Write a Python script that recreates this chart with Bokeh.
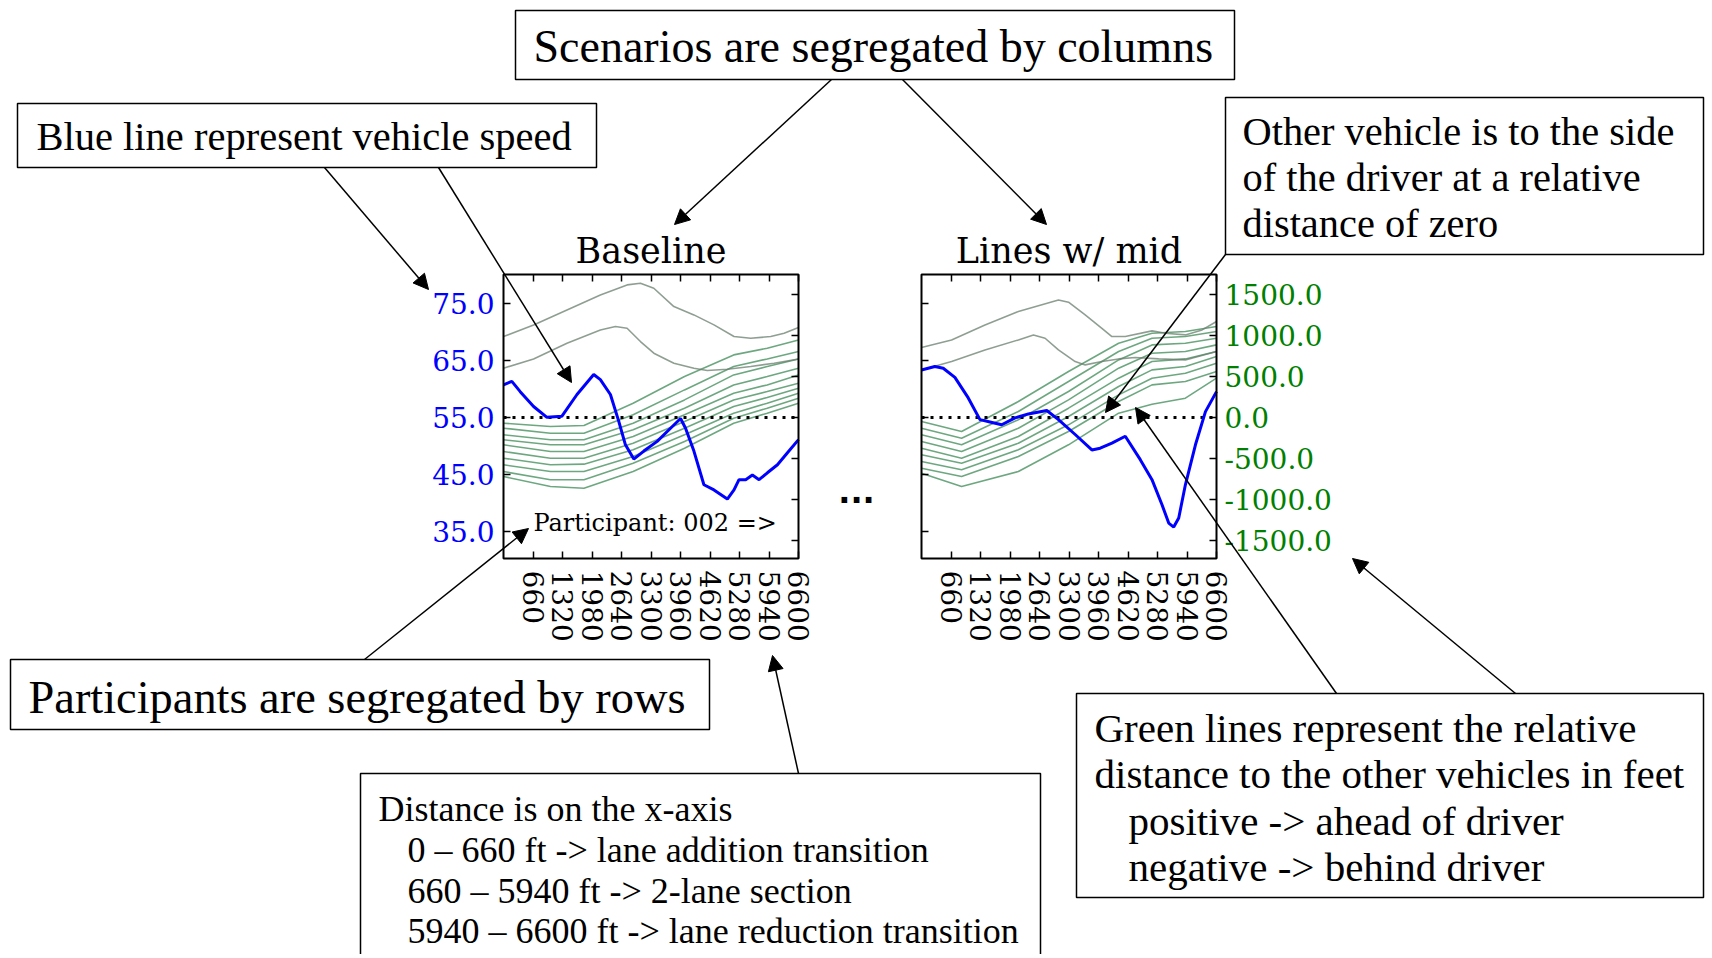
from bokeh.plotting import figure
from bokeh.models import Range1d, LinearAxis, FixedTicker, PrintfTickFormatter, Arrow, NormalHead
from bokeh.core.properties import value
from bokeh.embed import file_html
from bokeh.resources import INLINE

# ---------------- data ----------------
x_ticks = [660, 1320, 1980, 2640, 3300, 3960, 4620, 5280, 5940, 6600]
speed_ticks = [35, 45, 55, 65, 75]
dist_ticks = [-1500, -1000, -500, 0, 500, 1000, 1500]
x_lim = (0, 6600)
speed_lim = (30.3, 80.0)
dist_lim = (-1720, 1745)
scenarios = ["Baseline", "Lines w/ mid"]
participant = "Participant: 002 =>"

# Baseline scenario: speed (mph) and relative distances (ft)
base_x = [0, 187, 374, 673, 972, 1308, 1644, 2018, 2167, 2392, 2579, 2728, 2915, 3139, 3438, 3737,
          3961, 4073, 4260, 4484, 4709, 5008, 5157, 5269, 5419, 5568, 5718, 5904, 6129, 6353, 6600]
base_speed = [60.7, 61.3, 59.5, 56.9, 55.0, 55.2, 59.0, 62.5, 61.6, 59.0, 54.3, 50.2, 47.7, 49.1, 50.8, 53.1,
              54.8, 53.1, 49.1, 43.2, 42.3, 40.7, 42.3, 44.1, 44.1, 44.9, 44.1, 45.3, 46.7, 48.8, 51.1]
base_top_x = [0, 673, 1420, 2167, 2765, 3064, 3363, 3812, 4260, 4709, 5157, 5531, 5979, 6278, 6600]
base_top = [988, 1130, 1313, 1496, 1618, 1638, 1577, 1354, 1252, 1130, 988, 967, 988, 1028, 1098]
base_second_x = [0, 673, 1420, 2167, 2504, 2765, 3064, 3363, 3812, 4260, 4559, 5008, 5531, 6054, 6600]
base_second = [602, 715, 906, 1069, 1110, 1089, 927, 785, 663, 602, 573, 589, 622, 663, 715]
base_bundle_x = [0, 1050, 1800, 2900, 4050, 5150, 5900, 6600]
base_bundle = [
    [-69, -110, -98, 175, 500, 764, 846, 947],
    [-130, -191, -191, 33, 337, 622, 715, 805],
    [-211, -272, -272, -69, 215, 520, 622, 715],
    [-272, -333, -333, -150, 114, 398, 500, 602],
    [-333, -415, -415, -232, 33, 297, 398, 520],
    [-415, -496, -496, -313, -49, 215, 317, 419],
    [-496, -577, -569, -394, -130, 134, 244, 358],
    [-577, -659, -659, -476, -211, 53, 175, 297],
    [-659, -760, -760, -557, -293, -8, 114, 236],
    [-720, -841, -862, -659, -374, -69, 53, 175],
]

# Lines w/ mid scenario
mid_x = [0, 299, 486, 747, 1046, 1308, 1532, 1794, 2093, 2392, 2803, 3064, 3438, 3812, 3998, 4260,
         4559, 4895, 5157, 5381, 5531, 5643, 5755, 5904, 6129, 6353, 6600]
mid_speed = [63.3, 63.9, 63.6, 62.0, 58.4, 54.6, 54.2, 53.7, 54.9, 55.6, 56.2, 54.6, 52.0, 49.3, 49.6, 50.5,
             51.7, 47.6, 44.1, 39.7, 36.5, 35.8, 37.4, 43.2, 50.2, 56.0, 59.5]
mid_top_x = [0, 673, 1420, 2167, 3064, 3289, 3662, 4036, 4260, 4559, 5157, 5456, 5904, 6278, 6600]
mid_top = [854, 947, 1130, 1293, 1435, 1407, 1252, 1089, 988, 988, 1057, 1028, 1008, 1069, 1171]
mid_second_x = [0, 673, 1420, 2167, 2504, 2765, 3064, 3438, 3662, 4036, 4410, 4783, 5307, 5904, 6600]
mid_second = [581, 683, 825, 947, 1008, 967, 825, 683, 642, 683, 715, 732, 715, 703, 805]
mid_bundle_x = [0, 897, 2167, 3289, 4410, 5157, 5904, 6600]
mid_bundle = [
    [-49, -171, 195, 561, 906, 1028, 1049, 1110],
    [-130, -252, 73, 439, 805, 967, 988, 1049],
    [-211, -333, -28, 317, 703, 886, 906, 967],
    [-293, -415, -130, 215, 602, 785, 805, 886],
    [-374, -496, -232, 114, 480, 683, 715, 805],
    [-455, -557, -313, 12, 378, 581, 622, 744],
    [-537, -638, -394, -89, 276, 480, 541, 663],
    [-618, -720, -476, -171, 195, 398, 439, 561],
    [-679, -841, -659, -333, 53, 163, 236, 480],
]

# annotation texts
box_texts = [
    ["Scenarios are segregated by columns"],
    ["Blue line represent vehicle speed"],
    ["Other vehicle is to the side", "of the driver at a relative", "distance of zero"],
    ["Participants are segregated by rows"],
    ["Distance is on the x-axis", "0 \u2013 660 ft -> lane addition transition",
     "660 \u2013 5940 ft -> 2-lane section", "5940 \u2013 6600 ft -> lane reduction transition"],
    ["Green lines represent the relative", "distance to the other vehicles in feet",
     "positive -> ahead of driver", "negative -> behind driver"],
]

# ---------------- layout (page pixels) ----------------
OX, OY = 0, 0
W, H = 1708, 954
panel_boxes = [(503, 798, 274, 558), (921, 1216, 274, 558)]
boxes = [(515, 1234, 10, 79), (17, 596, 103, 167), (1225, 1703, 97, 254),
         (10, 709, 659, 729), (360, 1040, 773, 975), (1076, 1703, 693, 897)]
text_pos = [
    [(533, 46)],
    [(36, 136)],
    [(1242, 131), (1242, 177), (1242, 223)],
    [(28, 697)],
    [(378, 808), (407, 849), (407, 890), (407, 930)],
    [(1094, 727), (1094, 773), (1128, 820), (1128, 866)],
]
text_sizes = [46, 40.5, 40.4, 46.4, 36, 41]
arrows = [((831, 79), (674, 224)), ((902, 79), (1046, 224)),
          ((324, 167), (428, 289)), ((438, 167), (571, 382)),
          ((1225, 254), (1105, 412)), ((1336, 693), (1135, 407)),
          ((1515, 693), (1352, 558)), ((364, 659), (528, 528)),
          ((798, 773), (772, 655))]

p = figure(width=W, height=H, x_range=Range1d(OX, OX + W), y_range=Range1d(OY + H, OY),
           output_backend="svg", toolbar_location=None,
           x_axis_location=None, y_axis_location=None)
p.min_border_left = p.min_border_right = p.min_border_top = p.min_border_bottom = 0
p.outline_line_color = None
p.xgrid.visible = False
p.ygrid.visible = False
p.background_fill_color = "white"
p.border_fill_color = "white"


def xrange_for(lo, hi, p0, p1):
    k = (hi - lo) / (p1 - p0)
    start = lo - (p0 - OX) * k
    return Range1d(start, start + W * k)


def yrange_for(lo, hi, p0, p1):
    k = (hi - lo) / (p1 - p0)
    end = hi + (p0 - OY) * k
    return Range1d(end - H * k, end)


SERIF = "DejaVu Serif"

panel_data = [
    (base_x, base_speed, base_top_x, base_top, base_second_x, base_second, base_bundle_x, base_bundle),
    (mid_x, mid_speed, mid_top_x, mid_top, mid_second_x, mid_second, mid_bundle_x, mid_bundle),
]

for i, (bx, bx1, by0, by1) in enumerate(panel_boxes):
    rx, rs, rd = f"x{i}", f"s{i}", f"d{i}"
    p.extra_x_ranges[rx] = xrange_for(x_lim[0], x_lim[1], bx, bx1)
    p.extra_y_ranges[rs] = yrange_for(speed_lim[0], speed_lim[1], by0, by1)
    p.extra_y_ranges[rd] = yrange_for(dist_lim[0], dist_lim[1], by0, by1)

    sx, sv, tx, tv, sdx, sdv, bdx, bdl = panel_data[i]
    # green relative-distance lines
    for line in bdl:
        p.line(bdx, line, x_range_name=rx, y_range_name=rd, line_color="#3c8a55",
               line_alpha=0.75, line_width=1.6)
    p.line(tx, tv, x_range_name=rx, y_range_name=rd, line_color="#6a7d6e", line_alpha=0.75, line_width=1.6)
    p.line(sdx, sdv, x_range_name=rx, y_range_name=rd, line_color="#6a7d6e", line_alpha=0.75, line_width=1.6)
    # zero line
    p.line(list(x_lim), [0, 0], x_range_name=rx, y_range_name=rd, line_color="black",
           line_dash="3 6", line_width=2.8)
    # speed
    p.line(sx, sv, x_range_name=rx, y_range_name=rs, line_color="blue", line_width=3)
    # frame
    p.quad(left=[x_lim[0]], right=[x_lim[1]], bottom=[speed_lim[0]], top=[speed_lim[1]],
           x_range_name=rx, y_range_name=rs, fill_color=None, line_color="black", line_width=2)

    def mk(side, yname, loc, bounds, ticks, fmt, show, color="black", orient="horizontal", standoff=10):
        ax = LinearAxis(x_range_name=rx, y_range_name=yname, fixed_location=loc, bounds=bounds,
                        ticker=FixedTicker(ticks=ticks, minor_ticks=[]),
                        formatter=PrintfTickFormatter(format=fmt))
        ax.axis_line_color = None
        ax.major_tick_in = 7
        ax.major_tick_out = 0
        ax.major_tick_line_width = 1.5
        ax.major_tick_line_color = "black"
        ax.minor_tick_line_color = None
        ax.major_label_orientation = orient
        ax.major_label_standoff = standoff
        ax.major_label_text_font = SERIF
        ax.major_label_text_font_size = "28px"
        ax.major_label_text_color = color if show else None
        p.add_layout(ax, side)

    mk("below", rs, speed_lim[0], x_lim, x_ticks, "%d", True, orient="vertical", standoff=12)
    mk("above", rs, speed_lim[1], x_lim, x_ticks, "%d", False)
    mk("left", rs, x_lim[0], speed_lim, speed_ticks, "%.1f", i == 0, color="blue", standoff=9)
    mk("right", rd, x_lim[1], dist_lim, dist_ticks, "%.1f", i == 1, color="green", standoff=8)

    # title
    p.text(x=[(bx + bx1) / 2], y=[by0 - 24], text=[scenarios[i]], text_align="center",
           text_baseline="middle", text_font=value(SERIF), text_font_size="35px", text_color="black")

# participant label inside first panel
p.text(x=[670], y=[36.5], text=[participant], x_range_name="x0", y_range_name="s0",
       text_align="left", text_baseline="middle", text_font=value(SERIF),
       text_font_size="24px", text_color="black")

# ellipsis between columns
p.text(x=[856], y=[491], text=["..."], text_align="center", text_baseline="alphabetic",
       text_font=value("DejaVu Sans"), text_font_style="bold", text_font_size="32px", text_color="black")

# annotation boxes
for (l, r, t, b), lines, pos, sz in zip(boxes, box_texts, text_pos, text_sizes):
    p.quad(left=[l], right=[r], top=[t], bottom=[b], fill_color="white", line_color="black", line_width=1.5)
    p.text(x=[q[0] for q in pos], y=[q[1] for q in pos], text=lines, text_align="left",
           text_baseline="middle", text_font=value("Liberation Serif"),
           text_font_size=f"{sz}px", text_color="black")

for (x0, y0), (x1, y1) in arrows:
    p.add_layout(Arrow(end=NormalHead(size=15, fill_color="black", line_color="black", line_width=1),
                       x_start=x0, y_start=y0, x_end=x1, y_end=y1,
                       line_color="black", line_width=1.5))

open("out.html", "w").write(file_html(p, INLINE))
